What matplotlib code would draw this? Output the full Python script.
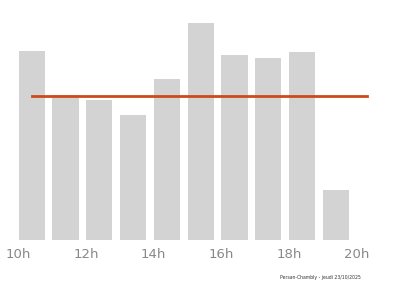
import matplotlib
matplotlib.use("Agg")
import matplotlib.pyplot as plt

hours = [10, 11, 12, 13, 14, 15, 16, 17, 18, 19]
values = [189, 145, 140, 125, 161, 217, 185, 182, 188, 50]
avg = 144
line_x = [10.4, 20.32]
tick_pos = [10, 12, 14, 16, 18, 20]
tick_labels = ["10h", "12h", "14h", "16h", "18h", "20h"]
footnote = "Persan-Chambly - jeudi 23/10/2025"

fig = plt.figure(figsize=(4.0, 2.86), dpi=100)
ax = fig.add_axes([0, 46/286, 1, 240/286])
ax.bar(hours, values, width=0.78, align="edge", color="#d3d3d3", zorder=1)
ax.plot(line_x, [avg, avg], color="#cc4a1c", linewidth=2, zorder=2)
ax.set_xlim(10 - 18.5/33.8, 10 + 381.5/33.8)
ax.set_ylim(0, 240)
for s in ax.spines.values():
    s.set_visible(False)
ax.set_yticks([])
ax.set_xticks(tick_pos)
ax.set_xticklabels(tick_labels, fontsize=9.5, color="#888888")
ax.tick_params(axis="x", length=0, pad=6)
fig.text(0.70, 0.028, footnote, fontsize=3.3, color="#333333", ha="left", va="center")
fig.savefig("out.png", dpi=100)
